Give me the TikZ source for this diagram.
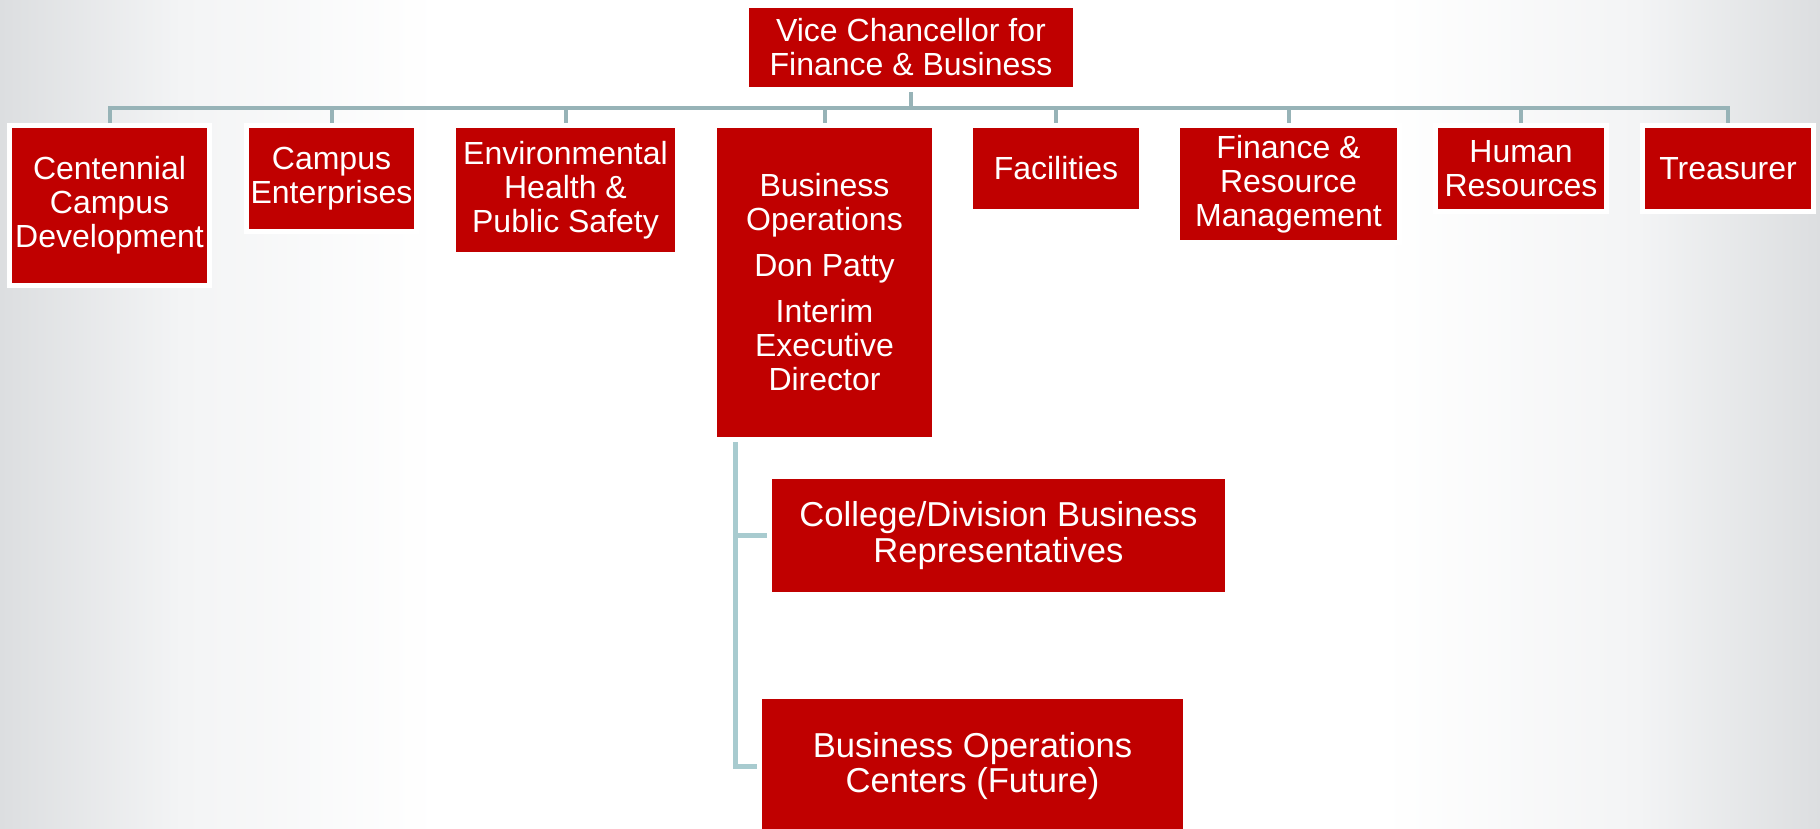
\documentclass[tikz,border=0pt]{standalone}
\usepackage{fontspec}
\setmainfont{Liberation Sans}
\usetikzlibrary{calc}
\definecolor{boxred}{HTML}{C00000}
\definecolor{linetop}{HTML}{97B3B7}
\definecolor{linelow}{HTML}{A8CBCF}
\definecolor{bgg}{HTML}{DCDEE0}
\definecolor{bgm}{HTML}{F3F4F5}
\pgfdeclarelayer{bg}
\pgfdeclarelayer{lines}
\pgfsetlayers{bg,lines,main}
\pgfdeclarehorizontalshading{slidebg}{100bp}{color(0bp)=(bgg); color(25bp)=(bgg); color(30bp)=(bgm); color(37bp)=(white); color(63bp)=(white); color(70bp)=(bgm); color(75bp)=(bgg); color(100bp)=(bgg)}
\begin{document}
\begin{tikzpicture}[x=0.5pt,y=-0.5pt,
  orgbox/.style={fill=boxred, text=white, inner sep=0pt, align=center,
    font=\fontsize{16}{17}\selectfont,
    preaction={draw=white, line width=5pt}},
  subbox/.style={orgbox, font=\fontsize{17.3}{17.8}\selectfont},
  toplink/.style={draw=linetop, line width=2pt},
  lowlink/.style={draw=linelow, line width=2.5pt}]
\useasboundingbox (0,0) rectangle (1820,829);
\begin{pgfonlayer}{bg}
\shade[shading=slidebg] (0,0) rectangle (1820,829);
\end{pgfonlayer}

\node[orgbox, minimum width=162pt, minimum height=39.5pt] (vc) at (911,47.5) {Vice Chancellor for\\Finance \& Business};
\node[orgbox, minimum width=97.5pt, minimum height=77.5pt] (cent) at (109.5,205.5) {Centennial\\Campus\\Development};
\node[orgbox, minimum width=82.5pt, minimum height=50.5pt] (ce) at (331.5,178.5) {Campus\\Enterprises};
\node[orgbox, minimum width=109.5pt, minimum height=62pt] (env) at (565.5,190) {Environmental\\Health \&\\Public Safety};
\node[orgbox, minimum width=107.5pt, minimum height=154.5pt] (bo) at (824.5,282.5) {Business\\Operations\\[6pt]Don Patty\\[6pt]Interim\\Executive\\Director};
\node[orgbox, minimum width=83pt, minimum height=40.5pt] (fac) at (1056,168.5) {Facilities};
\node[orgbox, minimum width=108.5pt, minimum height=56pt] (frm) at (1288.5,184) {Finance \&\\Resource\\Management};
\node[orgbox, minimum width=83pt, minimum height=40.5pt] (hr) at (1521,168.5) {Human\\Resources};
\node[orgbox, minimum width=83pt, minimum height=40.5pt] (tr) at (1728,168.5) {Treasurer};
\node[subbox, minimum width=226.5pt, minimum height=56.5pt] (cdb) at (998.5,535.5) {College/Division Business\\Representatives};
\node[subbox, minimum width=210.5pt, minimum height=67pt] (boc) at (972.5,766) {Business Operations\\Centers (Future)};

\coordinate (bar) at (911,108);
\coordinate (stem) at ($(bo.south west)+(19,0)$);
\begin{pgfonlayer}{lines}
\draw[toplink] (vc.south) -- (bar);
\foreach \n in {cent,ce,env,bo,fac,frm,hr,tr}
  \draw[toplink] (bar) -| (\n.north);
\draw[lowlink] (stem) |- (cdb.west);
\draw[lowlink] (stem) |- (boc.west);
\end{pgfonlayer}
\end{tikzpicture}
\end{document}
